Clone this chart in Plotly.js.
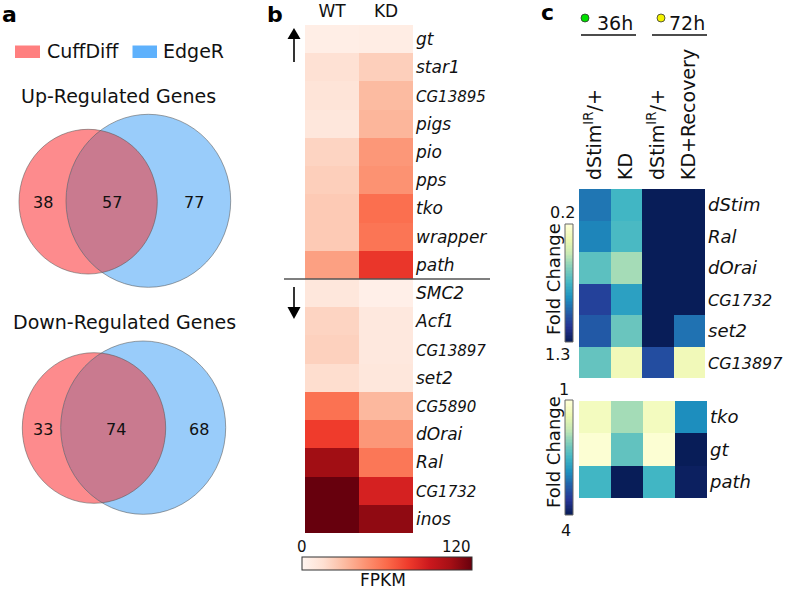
<!DOCTYPE html>
<html><head><meta charset="utf-8">
<script src="https://cdn.plot.ly/plotly-3.0.1.min.js"></script>
<style>html,body{margin:0;padding:0;background:#fff}</style>
</head><body><div id="chart" style="width:787px;height:592px"></div>
<script>
const W = 787, H = 592;
const FONT = 'DejaVu Sans';

// ---------- Panel a: Venn counts ----------
const vennSets = ['CuffDiff', 'EdgeR'];
const vennUpCounts = [38, 57, 77];     // CuffDiff only, both, EdgeR only
const vennDownCounts = [33, 74, 68];

// ---------- Panel b: FPKM heatmap ----------
const fpkmGenes = ['gt','star1','CG13895','pigs','pio','pps','tko','wrapper','path',
                   'SMC2','Acf1','CG13897','set2','CG5890','dOrai','Ral','CG1732','inos'];
const fpkmConditions = ['WT', 'KD'];
const fpkmWT = [5, 14, 12, 10, 20, 22, 24, 24, 40, 10, 20, 21, 16, 57, 75, 106, 120, 120];
const fpkmKD = [6, 22, 30, 32, 43, 45, 58, 56, 77, 4, 9, 9, 10, 31, 43, 55, 86, 110];
const fpkmRange = [0, 120];

// ---------- Panel c: fold change heatmaps ----------
const fcConditions = ['dStim<sup>IR</sup>/+', 'KD', 'dStim<sup>IR</sup>/+', 'KD+Recovery'];
const fcGenesTop = ['dStim','Ral','dOrai','CG1732','set2','CG13897'];
const fcTop36Ctrl  = [0.96, 0.92, 0.69, 1.12, 1.04, 0.67];
const fcTop36KD    = [0.75, 0.73, 0.54, 0.83, 0.66, 0.31];
const fcTop72Ctrl  = [1.30, 1.30, 1.30, 1.30, 1.30, 1.08];
const fcTop72KDRec = [1.30, 1.30, 1.30, 1.30, 0.97, 0.31];
const fcTopRange = [0.2, 1.3];
const fcGenesBottom = ['tko','gt','path'];
const fcBot36Ctrl  = [1.24, 1.06, 2.5];
const fcBot36KD    = [1.93, 2.3, 4.0];
const fcBot72Ctrl  = [1.24, 1.06, 2.5];
const fcBot72KDRec = [2.9, 4.0, 3.95];
const fcBotRange = [1, 4];
const timepoints = ['36h', '72h'];

// ---------- helpers ----------
const X = px => px / W, Y = py => 1 - py / H;
const dx = (a, b) => [a / W, b / W];
const dy = (t, b) => [1 - b / H, 1 - t / H];
function scale(cols) {
  return cols.map((c, i) => [i / (cols.length - 1), c]);
}
const REDS = scale(['#fff5f0','#fee0d2','#fcbba1','#fc9272','#fb6a4a','#ef3b2c','#cb181d','#a50f15','#67000d']);
const YLGNBU = scale(['#ffffd9','#edf8b1','#c7e9b4','#7fcdbb','#41b6c4','#1d91c0','#225ea8','#253494','#081d58']);
function geneText(g, small) {
  return g.startsWith('CG') ? `<span style="font-size:${small}px">${g}</span>` : g;
}
function ell(x0, y0, x1, y1) { return {cx:(x0+x1)/2, cy:(y0+y1)/2, rx:(x1-x0)/2, ry:(y1-y0)/2}; }
function pathOf(pts) {
  return 'M' + pts.map(p => X(p[0]).toFixed(5) + ',' + Y(p[1]).toFixed(5)).join(' L') + ' Z';
}
function lensPath(a, b) {
  const N = 720, pa = [], pb = [];
  for (let i = 0; i <= N; i++) {
    const t = Math.PI + 2*Math.PI*i/N;
    const x = a.cx + a.rx*Math.cos(t), y = a.cy + a.ry*Math.sin(t);
    if (((x-b.cx)/b.rx)**2 + ((y-b.cy)/b.ry)**2 < 1) pa.push([x, y]);
  }
  for (let i = 0; i <= N; i++) {
    const t = 2*Math.PI*i/N;
    const x = b.cx + b.rx*Math.cos(t), y = b.cy + b.ry*Math.sin(t);
    if (((x-a.cx)/a.rx)**2 + ((y-a.cy)/a.ry)**2 < 1) pb.push([x, y]);
  }
  return pathOf(pa.concat(pb));
}

// ---------- traces ----------
const traces = [];
traces.push({
  type: 'heatmap', x: fpkmConditions, y: fpkmGenes,
  z: fpkmGenes.map((g, i) => [fpkmWT[i], fpkmKD[i]]),
  zmin: fpkmRange[0], zmax: fpkmRange[1], colorscale: REDS,
  xaxis: 'x', yaxis: 'y', hoverinfo: 'skip',
  colorbar: {orientation: 'h', x: X(302), xanchor: 'left', y: Y(571), yanchor: 'bottom',
    len: 170, lenmode: 'pixels', thickness: 13, thicknessmode: 'pixels',
    showticklabels: false, ticks: '', outlinewidth: 1, outlinecolor: '#333', xpad: 0, ypad: 0}
});
traces.push({
  type: 'heatmap', x: [0,1,2,3], y: fcGenesTop,
  z: fcGenesTop.map((g, i) => [fcTop36Ctrl[i], fcTop36KD[i], fcTop72Ctrl[i], fcTop72KDRec[i]]),
  zmin: fcTopRange[0], zmax: fcTopRange[1], colorscale: YLGNBU, showscale: false,
  xaxis: 'x2', yaxis: 'y2', hoverinfo: 'skip'
});
traces.push({
  type: 'heatmap', x: [0,1,2,3], y: fcGenesBottom,
  z: fcGenesBottom.map((g, i) => [fcBot36Ctrl[i], fcBot36KD[i], fcBot72Ctrl[i], fcBot72KDRec[i]]),
  zmin: fcBotRange[0], zmax: fcBotRange[1], colorscale: YLGNBU, showscale: false,
  xaxis: 'x3', yaxis: 'y3', hoverinfo: 'skip'
});
// colour legends for panel c (gradient strips, low value at top)
function gradient(range, xa, ya) {
  const n = 80, z = [];
  for (let i = 0; i < n; i++) z.push([range[0] + (range[1]-range[0]) * i/(n-1)]);
  return {type: 'heatmap', z: z, zmin: range[0], zmax: range[1], colorscale: YLGNBU,
          showscale: false, xaxis: xa, yaxis: ya, hoverinfo: 'skip'};
}
traces.push(gradient(fcTopRange, 'x4', 'y4'));
traces.push(gradient(fcBotRange, 'x5', 'y5'));

// ---------- axes ----------
const hid = {showgrid: false, zeroline: false, showline: false, ticks: ''};
const layout = {
  width: W, height: H, margin: {l: 0, r: 0, t: 0, b: 0},
  paper_bgcolor: '#fff', plot_bgcolor: '#fff', showlegend: false,
  font: {family: FONT, color: '#111'},
  xaxis: Object.assign({}, hid, {domain: dx(305, 413), anchor: 'y', side: 'top', type: 'category',
    tickfont: {size: 17, family: FONT}, ticklabelstandoff: 4}),
  yaxis: Object.assign({}, hid, {domain: dy(25, 533), anchor: 'x', side: 'right', type: 'category',
    autorange: 'reversed', tickmode: 'array', tickvals: fpkmGenes,
    ticktext: fpkmGenes.map(g => geneText(g, 15)),
    tickfont: {size: 17, family: FONT, style: 'italic'}, ticklabelstandoff: 2}),
  xaxis2: Object.assign({}, hid, {domain: dx(579, 705), anchor: 'y2', side: 'top', range: [-0.5, 3.5],
    tickmode: 'array', tickvals: [0,1,2,3], ticktext: fcConditions, tickangle: -90,
    tickfont: {size: 19, family: FONT}, ticklabelstandoff: 8}),
  yaxis2: Object.assign({}, hid, {domain: dy(189, 378), anchor: 'x2', side: 'right', type: 'category',
    autorange: 'reversed', tickmode: 'array', tickvals: fcGenesTop,
    ticktext: fcGenesTop.map(g => geneText(g, 16)),
    tickfont: {size: 18, family: FONT, style: 'italic'}, ticklabelstandoff: 2}),
  xaxis3: Object.assign({}, hid, {domain: dx(579, 707), anchor: 'y3', range: [-0.5, 3.5], showticklabels: false}),
  yaxis3: Object.assign({}, hid, {domain: dy(401, 498), anchor: 'x3', side: 'right', type: 'category',
    autorange: 'reversed', tickmode: 'array', tickvals: fcGenesBottom, ticktext: fcGenesBottom,
    tickfont: {size: 18, family: FONT, style: 'italic'}, ticklabelstandoff: 2}),
  xaxis4: Object.assign({}, hid, {domain: dx(565, 573), anchor: 'y4', showticklabels: false}),
  yaxis4: Object.assign({}, hid, {domain: dy(224, 342), anchor: 'x4', autorange: 'reversed', showticklabels: false}),
  xaxis5: Object.assign({}, hid, {domain: dx(565, 573), anchor: 'y5', showticklabels: false}),
  yaxis5: Object.assign({}, hid, {domain: dy(400, 515), anchor: 'x5', autorange: 'reversed', showticklabels: false}),
  shapes: [], annotations: []
};

// ---------- panel a shapes ----------
const RED = '#fd8b8d', BLUE = '#99ccfa', MIX = '#c97a8f', EDGE = 'rgba(90,90,90,0.7)';
const venns = [
  {a: ell(19, 129.3, 157.3, 274), b: ell(66, 114.3, 230.7, 287.3), counts: vennUpCounts, ty: 202,
   xs: [43, 112, 194], title: 'Up-Regulated Genes', tx: 118, tty: 96},
  {a: ell(22.3, 352.7, 165.7, 503.3), b: ell(60.7, 341, 225.7, 514.3), counts: vennDownCounts, ty: 429,
   xs: [43, 116, 199], title: 'Down-Regulated Genes', tx: 124, tty: 322}
];
function circ(e, fill, line) {
  return {type: 'circle', xref: 'paper', yref: 'paper', layer: 'above',
    x0: X(e.cx - e.rx), x1: X(e.cx + e.rx), y0: Y(e.cy + e.ry), y1: Y(e.cy - e.ry),
    fillcolor: fill, line: line};
}
venns.forEach(v => {
  layout.shapes.push(circ(v.a, RED, {width: 0}));
  layout.shapes.push(circ(v.b, BLUE, {width: 0}));
  layout.shapes.push({type: 'path', xref: 'paper', yref: 'paper', layer: 'above',
    path: lensPath(v.a, v.b), fillcolor: MIX, line: {width: 0}});
  layout.shapes.push(circ(v.a, 'rgba(0,0,0,0)', {width: 0.8, color: EDGE}));
  layout.shapes.push(circ(v.b, 'rgba(0,0,0,0)', {width: 0.8, color: EDGE}));
  v.counts.forEach((c, i) => layout.annotations.push({xref: 'paper', yref: 'paper',
    x: X(v.xs[i]), y: Y(v.ty), text: String(c), showarrow: false, xanchor: 'center', yanchor: 'middle',
    font: {size: 16, family: FONT, color: '#111'}}));
  layout.annotations.push({xref: 'paper', yref: 'paper', x: X(v.tx), y: Y(v.tty), text: v.title,
    showarrow: false, xanchor: 'center', yanchor: 'middle', font: {size: 19, family: FONT, color: '#111'}});
});
// legend
layout.shapes.push({type: 'rect', xref: 'paper', yref: 'paper', x0: X(15), x1: X(40), y0: Y(58), y1: Y(45.5),
  fillcolor: '#ff7f7f', line: {width: 0}});
layout.shapes.push({type: 'rect', xref: 'paper', yref: 'paper', x0: X(132.5), x1: X(157), y0: Y(58), y1: Y(45.5),
  fillcolor: '#5eb1fc', line: {width: 0}});
layout.annotations.push({xref: 'paper', yref: 'paper', x: X(45), y: Y(51.5), text: vennSets[0], showarrow: false,
  xanchor: 'left', yanchor: 'middle', font: {size: 19, family: FONT, color: '#111'}});
layout.annotations.push({xref: 'paper', yref: 'paper', x: X(161), y: Y(51.5), text: vennSets[1], showarrow: false,
  xanchor: 'left', yanchor: 'middle', font: {size: 19, family: FONT, color: '#111'}});

// ---------- panel b extras ----------
layout.shapes.push({type: 'line', xref: 'paper', yref: 'paper', x0: X(284), x1: X(490), y0: Y(279), y1: Y(279),
  line: {color: '#555', width: 1.5}});
// direction arrows (up-regulated / down-regulated)
[[62, 39, 28], [287, 307, 319]].forEach(a => {
  layout.shapes.push({type: 'line', xref: 'paper', yref: 'paper', x0: X(294), x1: X(294), y0: Y(a[0]), y1: Y(a[1]),
    line: {color: '#000', width: 1.6}});
  layout.shapes.push({type: 'path', xref: 'paper', yref: 'paper',
    path: pathOf([[287.5, a[1]], [300.5, a[1]], [294, a[2]]]), fillcolor: '#000', line: {width: 0}});
});
[['0', 302, 'center'], ['120', 473, 'right']].forEach(t => layout.annotations.push({xref: 'paper', yref: 'paper',
  x: X(t[1]), y: Y(547), text: t[0], showarrow: false, xanchor: t[2], yanchor: 'middle',
  font: {size: 15, family: FONT, color: '#111'}}));
layout.annotations.push({xref: 'paper', yref: 'paper', x: X(383), y: Y(580), text: 'FPKM', showarrow: false,
  xanchor: 'center', yanchor: 'middle', font: {size: 17, family: FONT, color: '#111'}});

// ---------- panel c extras ----------
[[224, 342], [400, 515]].forEach(r => layout.shapes.push({type: 'rect', xref: 'paper', yref: 'paper',
  x0: X(565), x1: X(573), y0: Y(r[1]), y1: Y(r[0]), line: {color: '#666', width: 1}, fillcolor: 'rgba(0,0,0,0)'}));
[['0.2', 577, 212], ['1.3', 572, 354], ['1', 571, 389], ['4', 573, 530]].forEach(t =>
  layout.annotations.push({xref: 'paper', yref: 'paper', x: X(t[1]), y: Y(t[2]), text: t[0], showarrow: false,
    xanchor: 'right', yanchor: 'middle', font: {size: 16, family: FONT, color: '#111'}}));
[279, 452].forEach(cy => layout.annotations.push({xref: 'paper', yref: 'paper', x: X(553), y: Y(cy),
  text: 'Fold Change', textangle: -90, showarrow: false, xanchor: 'center', yanchor: 'middle',
  font: {size: 18, family: FONT, color: '#111'}}));
// timepoints header
[[585, '#00e000', 595, timepoints[0], 581, 636], [661, '#f2f200', 667, timepoints[1], 652, 707]].forEach(t => {
  layout.shapes.push({type: 'circle', xref: 'paper', yref: 'paper', x0: X(t[0]-4), x1: X(t[0]+4),
    y0: Y(22), y1: Y(14), fillcolor: t[1], line: {color: '#333', width: 0.8}});
  layout.annotations.push({xref: 'paper', yref: 'paper', x: X(t[2]), y: Y(23), text: t[3], showarrow: false,
    xanchor: 'left', yanchor: 'middle', font: {size: 19, family: FONT, color: '#111'}});
  layout.shapes.push({type: 'line', xref: 'paper', yref: 'paper', x0: X(t[4]), x1: X(t[5]), y0: Y(35), y1: Y(35),
    line: {color: '#111', width: 1.5}});
});

// panel letters
[['a', 9, 14], ['b', 275, 15], ['c', 547, 13]].forEach(t => layout.annotations.push({xref: 'paper', yref: 'paper',
  x: X(t[1]), y: Y(t[2]), text: '<b>' + t[0] + '</b>', showarrow: false, xanchor: 'center', yanchor: 'middle',
  font: {size: 22, family: FONT, color: '#000'}}));

Plotly.newPlot('chart', traces, layout, {staticPlot: true, displayModeBar: false});
</script></body></html>
